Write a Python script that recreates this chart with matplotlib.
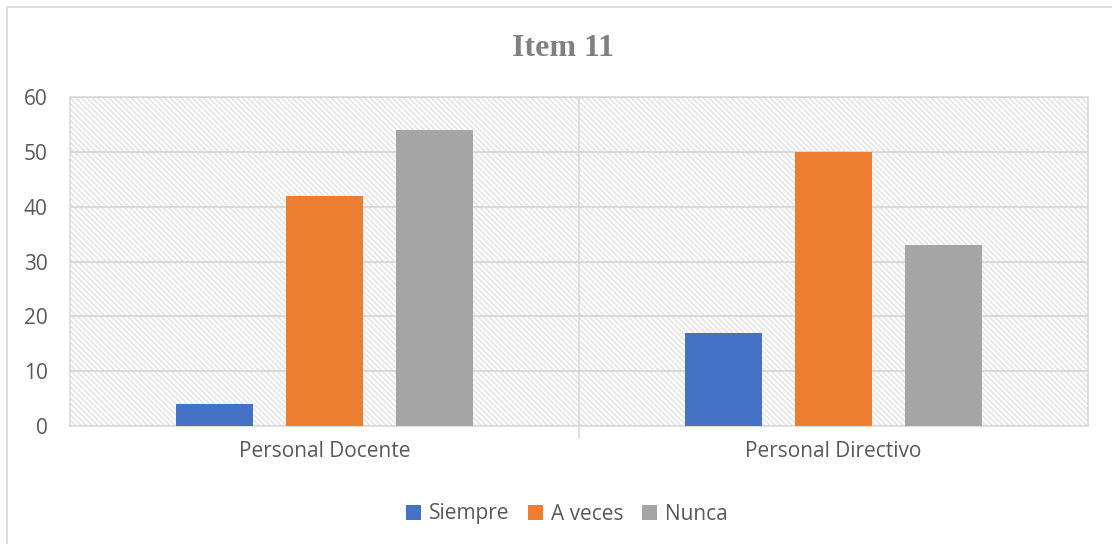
import numpy as np
import matplotlib.pyplot as plt
from matplotlib.patches import Rectangle

categories = ['Personal Docente', 'Personal Directivo']
series = ['Siempre', 'A veces', 'Nunca']
siempre = [4, 17]
a_veces = [42, 50]
nunca = [54, 33]
colors = ['#4472c4', '#ed7d31', '#a5a5a5']
yticks = [0, 10, 20, 30, 40, 50, 60]

plt.rcParams['font.family'] = ['Open Sans', 'DejaVu Sans']
plt.rcParams['hatch.linewidth'] = 1.1
plt.rcParams['hatch.color'] = '#e3e3e3'
text_color = '#595959'

fig = plt.figure(figsize=(11.12, 5.44), dpi=100)
ax = fig.add_axes([70/1112, 1 - 426/544, (1088 - 70)/1112, (426 - 97)/544])

# outer chart border
fig.patches.append(Rectangle((7/1112, -0.05), 1.2, 1 - 7/544 + 0.05, transform=fig.transFigure,
                             fill=False, edgecolor='#d9d9d9', linewidth=1.2, zorder=0))

# hatched plot area
ax.add_patch(Rectangle((0, 0), 1, 1, transform=ax.transAxes, facecolor='white',
                       edgecolor='#e3e3e3', hatch='\\' * 6, linewidth=0, zorder=0))

x = np.arange(len(categories))
width = 0.153
step = 0.216
for i, (vals, name) in enumerate(zip([siempre, a_veces, nunca], series)):
    ax.bar(x + (i - 1) * step, vals, width, color=colors[i], label=name, zorder=3)

ax.set_xlim(-0.5, len(categories) - 0.5)
ax.set_ylim(0, 60)
ax.set_yticks(yticks)
ax.set_xticks(x)
ax.set_xticklabels(categories)
ax.yaxis.grid(True, color='#d9d9d9', linewidth=1.5, zorder=1)
ax.set_axisbelow(False)
for b in np.arange(0.5, len(categories) - 0.5, 1):
    ax.axvline(b, color='#d9d9d9', linewidth=1.2, zorder=1)
    ax.plot([b, b], [0, -2.2], color='#d9d9d9', linewidth=1.2, clip_on=False)

for s in ax.spines.values():
    s.set_color('#d9d9d9')
    s.set_linewidth(1.2)
ax.tick_params(axis='both', length=0, colors=text_color, labelsize=15)
ax.tick_params(axis='x', pad=11)
ax.tick_params(axis='y', pad=16)

fig.text(563/1112, 1 - 48/544, 'Item 11', ha='center', va='center', fontsize=23,
         fontweight='bold', family='Liberation Serif', color='#808080')

leg = fig.legend(loc='center', bbox_to_anchor=(567/1112, 1 - 514/544), ncol=3, frameon=False,
                 fontsize=15, handlelength=0.7, handleheight=0.7, handletextpad=0.4,
                 columnspacing=0.9)
for t in leg.get_texts():
    t.set_color(text_color)

fig.savefig('out.png', dpi=100)
